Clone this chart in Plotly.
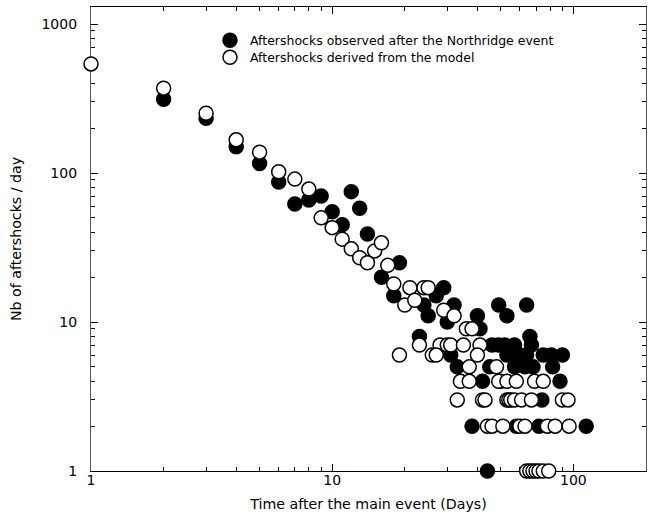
import math
import plotly.graph_objects as go

# Observed aftershocks (filled) : day after main shock, count per day
obs_days = [2, 3, 4, 5, 6, 7, 8, 9, 10, 11, 12, 13, 14, 16, 18, 19,
            23, 24, 25, 27, 29, 30, 32, 40, 41, 49, 53, 64, 66,
            46, 49, 52, 57, 67,
            31, 53, 56, 60, 64, 75, 81, 90,
            33, 45, 57, 63, 68, 82,
            42, 50, 88,
            74,
            38, 58, 72, 113,
            44]
obs_counts = [313, 233, 150, 116, 87, 62, 66, 70, 55, 45, 75, 58, 39, 20, 15, 25,
              8, 13, 11, 15, 17, 10, 13, 11, 9, 13, 11, 13, 8,
              7, 7, 7, 7, 7,
              6, 6, 6, 6, 6, 6, 6, 6,
              5, 5, 5, 5, 5, 5,
              4, 4, 4,
              3,
              2, 2, 2, 2,
              1]

# Aftershocks derived from the model (open)
model_days = [1, 2, 3, 4, 5, 6, 7, 8, 9, 10, 11, 12, 13, 14, 15, 16, 17, 18,
              20, 21, 22, 24, 25, 29, 32,
              36, 38,
              23, 28, 30, 31, 35, 41,
              19, 26, 27, 40,
              37, 48,
              34, 37, 49, 53, 58, 69, 75,
              33, 42, 43, 53, 54, 55, 57, 61, 67, 90, 95,
              44, 46, 51, 60, 63, 78, 84, 96,
              64, 66, 68, 70, 72, 75, 79]
model_counts = [540, 371, 252, 167, 138, 102, 91, 78, 50, 43, 36, 31, 27, 25, 30, 34, 24, 18,
                13, 17, 14, 17, 17, 12, 11,
                9, 9,
                7, 7, 7, 7, 7, 7,
                6, 6, 6, 6,
                5, 5,
                4, 4, 4, 4, 4, 4, 4,
                3, 3, 3, 3, 3, 3, 3, 3, 3, 3, 3,
                2, 2, 2, 2, 2, 2, 2, 2,
                1, 1, 1, 1, 1, 1, 1]

x_tickvals = [1, 10, 100]
x_ticktext = ["1", "10", "100"]
y_tickvals = [1, 10, 100, 1000]
y_ticktext = ["1", "10", "100", "1000"]
x_minor = [2, 3, 4, 5, 6, 7, 8, 9, 20, 30, 40, 50, 60, 70, 80, 90, 200]
y_minor = [2, 3, 4, 5, 6, 7, 8, 9, 20, 30, 40, 50, 60, 70, 80, 90,
           200, 300, 400, 500, 600, 700, 800, 900]

FONT = "DejaVu Sans"

fig = go.Figure()
fig.add_trace(go.Scatter(
    x=obs_days, y=obs_counts, mode="markers",
    name="Aftershocks observed after the Northridge event",
    marker=dict(symbol="circle", size=14, color="black",
                line=dict(color="black", width=1.5)),
    legend="legend", cliponaxis=False,
))
fig.add_trace(go.Scatter(
    x=model_days, y=model_counts, mode="markers",
    name="Aftershocks derived from the model",
    marker=dict(symbol="circle", size=14, color="white",
                line=dict(color="black", width=1.5)),
    legend="legend2", cliponaxis=False,
))

legend_common = dict(xanchor="left", yanchor="top",
                     bgcolor="rgba(0,0,0,0)", borderwidth=0,
                     font=dict(family=FONT, size=12.5, color="black"),
                     itemwidth=30)

fig.update_layout(
    width=652, height=519,
    margin=dict(l=91, r=6, t=7, b=48),
    paper_bgcolor="white", plot_bgcolor="white",
    font=dict(family=FONT, size=14, color="black"),
    showlegend=True,
    legend=dict(x=0.2144, y=0.9597, **legend_common),
    legend2=dict(x=0.2144, y=0.923, **legend_common),
    xaxis=dict(
        type="log", range=[0, math.log10(200)],
        tickmode="array", tickvals=x_tickvals, ticktext=x_ticktext,
        ticks="inside", ticklen=7, tickwidth=1, tickcolor="black",
        minor=dict(tickvals=x_minor, ticks="inside", ticklen=4,
                   tickwidth=1, tickcolor="black", showgrid=False),
        showline=True, linecolor="black", linewidth=1, mirror="ticks",
        showgrid=False, zeroline=False, layer="below traces",
        tickfont=dict(family=FONT, size=14),
        ticklabelstandoff=-4,
        title=dict(text="Time after the main event (Days)",
                   font=dict(family=FONT, size=14.2), standoff=12),
        automargin=False,
    ),
    yaxis=dict(
        type="log", range=[0, 3.1143],
        tickmode="array", tickvals=y_tickvals, ticktext=y_ticktext,
        ticks="inside", ticklen=7, tickwidth=1, tickcolor="black",
        minor=dict(tickvals=y_minor, ticks="inside", ticklen=4,
                   tickwidth=1, tickcolor="black", showgrid=False),
        showline=True, linecolor="#555555", linewidth=1.3, mirror="ticks",
        showgrid=False, zeroline=False, layer="below traces",
        tickfont=dict(family=FONT, size=14),
        ticklabelstandoff=10,
        title=dict(text="Nb of aftershocks / day",
                   font=dict(family=FONT, size=14.2), standoff=16),
        automargin=False,
    ),
)

fig.write_html("out.html",
               config={"displayModeBar": False},
               post_script="document.body.style.margin='0px';")
